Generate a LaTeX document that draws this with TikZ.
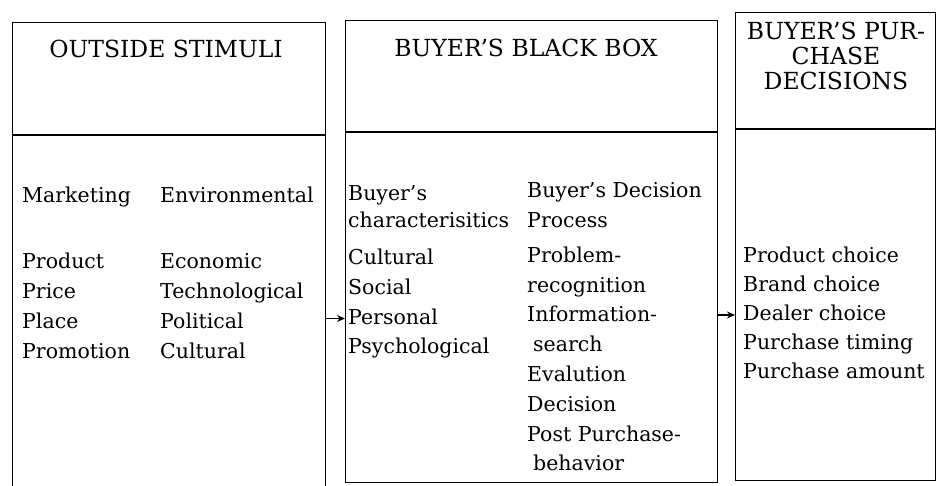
\documentclass[tikz,border=0pt]{standalone}
\usepackage{fontspec}
\setmainfont{DejaVu Serif}
\usetikzlibrary{arrows.meta, positioning}

\tikzset{
  panel/.style={draw, line width=1.2pt, rectangle, inner sep=0pt, anchor=north west},
  rule/.style={line width=1.2pt},
  head/.style={font=\fontsize{23.5}{25}\selectfont, align=center, inner sep=0pt},
  item/.style={font=\fontsize{20.5}{25}\selectfont, anchor=west, inner sep=0pt,
               text height=15pt, text depth=4pt},
  flow/.style={-{Stealth[length=8pt, width=7pt]}, line width=1.1pt},
}

\begin{document}
\begin{tikzpicture}[x=1pt, y=-1pt]
    \useasboundingbox (0,0) rectangle (939,486);

    % --- panels ---
    \node[panel, minimum width=313pt, minimum height=480pt] (stim)  at (12,22)  {};
    \node[panel, minimum width=372pt, minimum height=462pt] (black) at (345,20) {};
    \node[panel, minimum width=200pt, minimum height=468pt] (dec)   at (735,12) {};

    % header rules
    \draw[rule] (stim.west |- 0,135)  -- (stim.east |- 0,135);
    \draw[rule] (black.west |- 0,132) -- (black.east |- 0,132);
    \draw[rule] (dec.west |- 0,129)   -- (dec.east |- 0,129);

    % --- headers ---
    \node[head] (stimhead)  at (166,49) {OUTSIDE STIMULI};
    \node[head] (blackhead) at (526,48) {BUYER'S BLACK BOX};
    \node[head] (dechead)   at (836,56) {BUYER'S PUR-\\CHASE\\DECISIONS};

    % --- outside stimuli ---
    \node[item] (mkt) at (22,197)  {Marketing};
    \node[item] (env) at (160,197) {Environmental};
    \foreach \a/\b [count=\i] in {Product/Economic, Price/Technological,
                                  Place/Political, Promotion/Cultural} {
        \node[item] (mk\i) at (22,{233+30*\i})  {\a};
        \node[item] (en\i) at (160,{233+30*\i}) {\b};
    }

    % --- black box ---
    \node[item] (bc)  at (348,195) {Buyer's};
    \node[item] (bcx) at (348,222) {characterisitics};
    \foreach \t [count=\i] in {Cultural, Social, Personal, Psychological}
        \node[item] (ch\i) at (348,{230+29.5*\i}) {\t};

    \node[item] (bd)  at (527,192) {Buyer's Decision};
    \node[item] (bdx) at (527,222) {Process};
    \foreach \t/\dx [count=\i] in {Problem-/0, recognition/0, Information-/0,
                                   search/6, Evalution/0, Decision/0,
                                   Post Purchase-/0, behavior/6}
        \node[item] (st\i) at ({527+\dx},{227+29.8*\i}) {\t};

    % --- purchase decisions ---
    \foreach \t [count=\i] in {Product choice, Brand choice, Dealer choice,
                               Purchase timing, Purchase amount}
        \node[item] (pd\i) at (743,{228+29*\i}) {\t};

    % flows between panels
    \draw[flow] (stim.east |- ch3.west) -- (black.west |- ch3.west);
    \draw[flow] (black.east |- pd3.west) -- (dec.west |- pd3.west);

\end{tikzpicture}
\end{document}
